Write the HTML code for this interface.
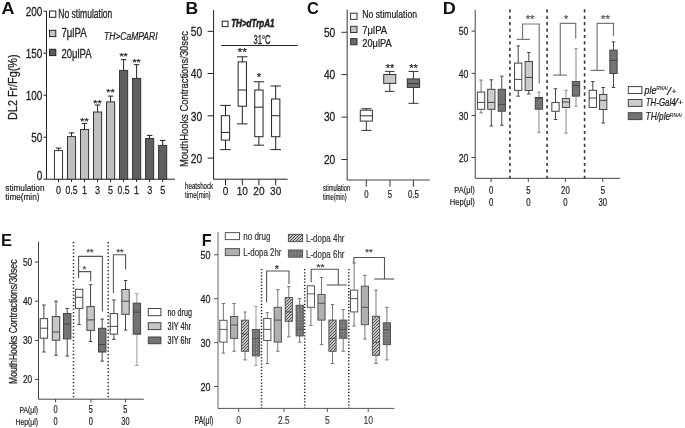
<!DOCTYPE html>
<html><head><meta charset="utf-8"><style>
html,body{margin:0;padding:0;background:#fff;}
svg{display:block;will-change:transform;}
text{font-family:"Liberation Sans", sans-serif;stroke:currentColor;}
</style></head><body>
<svg width="685" height="428" viewBox="0 0 685 428" fill="#222">
<defs>
<pattern id="hatch" width="3" height="3" patternUnits="userSpaceOnUse"><rect width="3" height="3" fill="#f4f4f4"/><path d="M-1,1 L1,-1 M0,3 L3,0 M2,4 L4,2" stroke="#505050" stroke-width="1.15"/></pattern>
<pattern id="dots" width="3" height="3" patternUnits="userSpaceOnUse"><rect width="3" height="3" fill="#747474"/><rect x="1" y="1" width="1" height="1" fill="#9a9a9a"/></pattern>
</defs>
<rect width="685" height="428" fill="#fff"/>
<text x="1.50" y="14.00" font-size="16.8" textLength="13.00" lengthAdjust="spacingAndGlyphs" font-weight="bold" fill="#111" color="#111" stroke-width="0">A</text>
<line x1="46.50" y1="11.20" x2="46.50" y2="179.20" stroke="#222" stroke-width="1"/>
<line x1="46.50" y1="179.20" x2="175.00" y2="179.20" stroke="#222" stroke-width="1"/>
<line x1="43.50" y1="11.20" x2="46.50" y2="11.20" stroke="#222" stroke-width="1"/>
<text x="42.40" y="15.80" font-size="12.6" text-anchor="end" textLength="16.65" lengthAdjust="spacingAndGlyphs" fill="#222" color="#222" stroke-width="0.277">200</text>
<line x1="43.50" y1="53.20" x2="46.50" y2="53.20" stroke="#222" stroke-width="1"/>
<text x="42.40" y="57.80" font-size="12.6" text-anchor="end" textLength="16.65" lengthAdjust="spacingAndGlyphs" fill="#222" color="#222" stroke-width="0.277">150</text>
<line x1="43.50" y1="95.20" x2="46.50" y2="95.20" stroke="#222" stroke-width="1"/>
<text x="42.40" y="99.80" font-size="12.6" text-anchor="end" textLength="16.65" lengthAdjust="spacingAndGlyphs" fill="#222" color="#222" stroke-width="0.277">100</text>
<line x1="43.50" y1="137.20" x2="46.50" y2="137.20" stroke="#222" stroke-width="1"/>
<text x="42.40" y="141.80" font-size="12.6" text-anchor="end" textLength="11.10" lengthAdjust="spacingAndGlyphs" fill="#222" color="#222" stroke-width="0.277">50</text>
<line x1="43.50" y1="179.20" x2="46.50" y2="179.20" stroke="#222" stroke-width="1"/>
<text x="42.40" y="179.60" font-size="12.6" text-anchor="end" textLength="5.55" lengthAdjust="spacingAndGlyphs" fill="#222" color="#222" stroke-width="0.277">0</text>
<text x="16.90" y="87.20" font-size="12.5" text-anchor="middle" textLength="65.50" lengthAdjust="spacingAndGlyphs" fill="#222" color="#222" stroke-width="0.275" transform="rotate(-90 16.90 87.20)">DL2 Fr/Fg(%)</text>
<rect x="49.50" y="11.00" width="6.30" height="6.30" fill="#fff" stroke="#222" stroke-width="1"/>
<rect x="49.50" y="30.30" width="6.30" height="6.30" fill="#c4c4c4" stroke="#222" stroke-width="1"/>
<rect x="49.50" y="49.30" width="6.30" height="6.30" fill="#5c5c5c" stroke="#222" stroke-width="1"/>
<text x="58.30" y="18.20" font-size="12" textLength="54.00" lengthAdjust="spacingAndGlyphs" fill="#222" color="#222" stroke-width="0.264">No stimulation</text>
<text x="61.40" y="37.40" font-size="12" textLength="25.20" lengthAdjust="spacingAndGlyphs" fill="#222" color="#222" stroke-width="0.264">7μlPA</text>
<text x="61.40" y="57.60" font-size="12" textLength="30.20" lengthAdjust="spacingAndGlyphs" fill="#222" color="#222" stroke-width="0.264">20μlPA</text>
<text x="104.00" y="40.20" font-size="10" textLength="53.50" lengthAdjust="spacingAndGlyphs" font-style="italic" fill="#222" color="#222" stroke-width="0.22">TH&gt;CaMPARI</text>
<line x1="58.50" y1="150.60" x2="58.50" y2="148.10" stroke="#222" stroke-width="1"/>
<line x1="55.75" y1="148.10" x2="61.25" y2="148.10" stroke="#222" stroke-width="1"/>
<rect x="54.45" y="150.60" width="8.10" height="28.60" fill="#fff" stroke="#333" stroke-width="1.0"/>
<line x1="58.50" y1="179.20" x2="58.50" y2="182.00" stroke="#222" stroke-width="1"/>
<line x1="71.52" y1="136.60" x2="71.52" y2="132.90" stroke="#222" stroke-width="1"/>
<line x1="68.77" y1="132.90" x2="74.27" y2="132.90" stroke="#222" stroke-width="1"/>
<rect x="67.47" y="136.60" width="8.10" height="42.60" fill="#c0c0c0" stroke="#333" stroke-width="1.0"/>
<line x1="71.52" y1="179.20" x2="71.52" y2="182.00" stroke="#222" stroke-width="1"/>
<line x1="84.54" y1="129.50" x2="84.54" y2="123.40" stroke="#222" stroke-width="1"/>
<line x1="81.79" y1="123.40" x2="87.29" y2="123.40" stroke="#222" stroke-width="1"/>
<rect x="80.49" y="129.50" width="8.10" height="49.70" fill="#c0c0c0" stroke="#333" stroke-width="1.0"/>
<line x1="84.54" y1="179.20" x2="84.54" y2="182.00" stroke="#222" stroke-width="1"/>
<line x1="97.56" y1="112.00" x2="97.56" y2="105.00" stroke="#222" stroke-width="1"/>
<line x1="94.81" y1="105.00" x2="100.31" y2="105.00" stroke="#222" stroke-width="1"/>
<rect x="93.51" y="112.00" width="8.10" height="67.20" fill="#c0c0c0" stroke="#333" stroke-width="1.0"/>
<line x1="97.56" y1="179.20" x2="97.56" y2="182.00" stroke="#222" stroke-width="1"/>
<line x1="110.58" y1="101.90" x2="110.58" y2="96.10" stroke="#222" stroke-width="1"/>
<line x1="107.83" y1="96.10" x2="113.33" y2="96.10" stroke="#222" stroke-width="1"/>
<rect x="106.53" y="101.90" width="8.10" height="77.30" fill="#c0c0c0" stroke="#333" stroke-width="1.0"/>
<line x1="110.58" y1="179.20" x2="110.58" y2="182.00" stroke="#222" stroke-width="1"/>
<line x1="123.60" y1="70.40" x2="123.60" y2="59.70" stroke="#222" stroke-width="1"/>
<line x1="120.85" y1="59.70" x2="126.35" y2="59.70" stroke="#222" stroke-width="1"/>
<rect x="119.55" y="70.40" width="8.10" height="108.80" fill="#606060" stroke="#333" stroke-width="1.0"/>
<line x1="123.60" y1="179.20" x2="123.60" y2="182.00" stroke="#222" stroke-width="1"/>
<line x1="136.62" y1="78.40" x2="136.62" y2="64.70" stroke="#222" stroke-width="1"/>
<line x1="133.87" y1="64.70" x2="139.37" y2="64.70" stroke="#222" stroke-width="1"/>
<rect x="132.57" y="78.40" width="8.10" height="100.80" fill="#606060" stroke="#333" stroke-width="1.0"/>
<line x1="136.62" y1="179.20" x2="136.62" y2="182.00" stroke="#222" stroke-width="1"/>
<line x1="149.64" y1="138.50" x2="149.64" y2="135.40" stroke="#222" stroke-width="1"/>
<line x1="146.89" y1="135.40" x2="152.39" y2="135.40" stroke="#222" stroke-width="1"/>
<rect x="145.59" y="138.50" width="8.10" height="40.70" fill="#606060" stroke="#333" stroke-width="1.0"/>
<line x1="149.64" y1="179.20" x2="149.64" y2="182.00" stroke="#222" stroke-width="1"/>
<line x1="162.66" y1="145.40" x2="162.66" y2="140.40" stroke="#222" stroke-width="1"/>
<line x1="159.91" y1="140.40" x2="165.41" y2="140.40" stroke="#222" stroke-width="1"/>
<rect x="158.61" y="145.40" width="8.10" height="33.80" fill="#606060" stroke="#333" stroke-width="1.0"/>
<line x1="162.66" y1="179.20" x2="162.66" y2="182.00" stroke="#222" stroke-width="1"/>
<text x="84.54" y="123.60" font-size="9" text-anchor="middle" textLength="8.40" lengthAdjust="spacingAndGlyphs" fill="#222" color="#222" stroke-width="0.198">**</text>
<text x="97.56" y="105.50" font-size="9" text-anchor="middle" textLength="8.40" lengthAdjust="spacingAndGlyphs" fill="#222" color="#222" stroke-width="0.198">**</text>
<text x="110.58" y="94.60" font-size="9" text-anchor="middle" textLength="8.40" lengthAdjust="spacingAndGlyphs" fill="#222" color="#222" stroke-width="0.198">**</text>
<text x="123.60" y="59.30" font-size="9" text-anchor="middle" textLength="8.40" lengthAdjust="spacingAndGlyphs" fill="#222" color="#222" stroke-width="0.198">**</text>
<text x="136.62" y="64.70" font-size="9" text-anchor="middle" textLength="8.40" lengthAdjust="spacingAndGlyphs" fill="#222" color="#222" stroke-width="0.198">**</text>
<text x="58.50" y="194.20" font-size="11.5" text-anchor="middle" textLength="5.00" lengthAdjust="spacingAndGlyphs" fill="#222" color="#222" stroke-width="0.253">0</text>
<text x="71.52" y="194.20" font-size="11.5" text-anchor="middle" textLength="12.00" lengthAdjust="spacingAndGlyphs" fill="#222" color="#222" stroke-width="0.253">0.5</text>
<text x="84.54" y="194.20" font-size="11.5" text-anchor="middle" textLength="5.00" lengthAdjust="spacingAndGlyphs" fill="#222" color="#222" stroke-width="0.253">1</text>
<text x="97.56" y="194.20" font-size="11.5" text-anchor="middle" textLength="5.00" lengthAdjust="spacingAndGlyphs" fill="#222" color="#222" stroke-width="0.253">3</text>
<text x="110.58" y="194.20" font-size="11.5" text-anchor="middle" textLength="5.00" lengthAdjust="spacingAndGlyphs" fill="#222" color="#222" stroke-width="0.253">5</text>
<text x="123.60" y="194.20" font-size="11.5" text-anchor="middle" textLength="12.00" lengthAdjust="spacingAndGlyphs" fill="#222" color="#222" stroke-width="0.253">0.5</text>
<text x="136.62" y="194.20" font-size="11.5" text-anchor="middle" textLength="5.00" lengthAdjust="spacingAndGlyphs" fill="#222" color="#222" stroke-width="0.253">1</text>
<text x="149.64" y="194.20" font-size="11.5" text-anchor="middle" textLength="5.00" lengthAdjust="spacingAndGlyphs" fill="#222" color="#222" stroke-width="0.253">3</text>
<text x="162.66" y="194.20" font-size="11.5" text-anchor="middle" textLength="5.00" lengthAdjust="spacingAndGlyphs" fill="#222" color="#222" stroke-width="0.253">5</text>
<text x="5.30" y="190.50" font-size="9.6" textLength="39.20" lengthAdjust="spacingAndGlyphs" fill="#222" color="#222" stroke-width="0.211">stimulation</text>
<text x="5.30" y="200.20" font-size="9.6" textLength="34.20" lengthAdjust="spacingAndGlyphs" fill="#222" color="#222" stroke-width="0.211">time(min)</text>
<text x="185.40" y="14.00" font-size="16.7" textLength="12.70" lengthAdjust="spacingAndGlyphs" font-weight="bold" fill="#111" color="#111" stroke-width="0">B</text>
<line x1="213.60" y1="10.10" x2="213.60" y2="179.20" stroke="#222" stroke-width="1"/>
<line x1="213.60" y1="179.20" x2="287.60" y2="179.20" stroke="#222" stroke-width="1"/>
<line x1="207.60" y1="31.30" x2="213.60" y2="31.30" stroke="#222" stroke-width="1"/>
<text x="202.20" y="36.20" font-size="12.8" text-anchor="end" textLength="11.40" lengthAdjust="spacingAndGlyphs" fill="#222" color="#222" stroke-width="0.282">50</text>
<line x1="207.60" y1="73.50" x2="213.60" y2="73.50" stroke="#222" stroke-width="1"/>
<text x="202.20" y="78.40" font-size="12.8" text-anchor="end" textLength="11.40" lengthAdjust="spacingAndGlyphs" fill="#222" color="#222" stroke-width="0.282">40</text>
<line x1="207.60" y1="115.80" x2="213.60" y2="115.80" stroke="#222" stroke-width="1"/>
<text x="202.20" y="120.70" font-size="12.8" text-anchor="end" textLength="11.40" lengthAdjust="spacingAndGlyphs" fill="#222" color="#222" stroke-width="0.282">30</text>
<line x1="207.60" y1="158.10" x2="213.60" y2="158.10" stroke="#222" stroke-width="1"/>
<text x="202.20" y="163.00" font-size="12.8" text-anchor="end" textLength="11.40" lengthAdjust="spacingAndGlyphs" fill="#222" color="#222" stroke-width="0.282">20</text>
<text x="187.60" y="99.00" font-size="11.3" text-anchor="middle" textLength="136.00" lengthAdjust="spacingAndGlyphs" fill="#222" color="#222" stroke-width="0.249" transform="rotate(-90 187.60 99.00)">MouthHooks Contractions/30sec</text>
<rect x="222.20" y="21.20" width="5.80" height="5.40" fill="#fff" stroke="#222" stroke-width="1"/>
<text x="231.20" y="27.30" font-size="10" textLength="43.30" lengthAdjust="spacingAndGlyphs" font-weight="bold" font-style="italic" fill="#222" color="#222" stroke-width="0.55">TH&gt;dTrpA1</text>
<text x="253.40" y="44.20" font-size="13.5" textLength="17.20" lengthAdjust="spacingAndGlyphs" fill="#222" color="#222" stroke-width="0.297">31°C</text>
<line x1="221.20" y1="45.50" x2="297.70" y2="45.50" stroke="#222" stroke-width="1"/>
<line x1="225.50" y1="105.40" x2="225.50" y2="115.70" stroke="#222" stroke-width="1"/>
<line x1="220.25" y1="105.40" x2="230.75" y2="105.40" stroke="#222" stroke-width="1"/>
<line x1="225.50" y1="140.10" x2="225.50" y2="149.60" stroke="#222" stroke-width="1"/>
<line x1="220.25" y1="149.60" x2="230.75" y2="149.60" stroke="#222" stroke-width="1"/>
<rect x="221.35" y="115.70" width="8.30" height="24.40" fill="#fff" stroke="#222" stroke-width="1"/>
<line x1="221.35" y1="132.40" x2="229.65" y2="132.40" stroke="#222" stroke-width="1"/>
<line x1="242.30" y1="56.80" x2="242.30" y2="61.90" stroke="#222" stroke-width="1"/>
<line x1="237.05" y1="56.80" x2="247.55" y2="56.80" stroke="#222" stroke-width="1"/>
<line x1="242.30" y1="106.20" x2="242.30" y2="123.90" stroke="#222" stroke-width="1"/>
<line x1="237.05" y1="123.90" x2="247.55" y2="123.90" stroke="#222" stroke-width="1"/>
<rect x="238.15" y="61.90" width="8.30" height="44.30" fill="#fff" stroke="#222" stroke-width="1"/>
<line x1="238.15" y1="90.00" x2="246.45" y2="90.00" stroke="#222" stroke-width="1"/>
<line x1="258.90" y1="81.80" x2="258.90" y2="90.00" stroke="#222" stroke-width="1"/>
<line x1="253.65" y1="81.80" x2="264.15" y2="81.80" stroke="#222" stroke-width="1"/>
<line x1="258.90" y1="136.70" x2="258.90" y2="145.20" stroke="#222" stroke-width="1"/>
<line x1="253.65" y1="145.20" x2="264.15" y2="145.20" stroke="#222" stroke-width="1"/>
<rect x="254.75" y="90.00" width="8.30" height="46.70" fill="#fff" stroke="#222" stroke-width="1"/>
<line x1="254.75" y1="107.20" x2="263.05" y2="107.20" stroke="#222" stroke-width="1"/>
<line x1="275.70" y1="86.00" x2="275.70" y2="99.00" stroke="#222" stroke-width="1"/>
<line x1="270.45" y1="86.00" x2="280.95" y2="86.00" stroke="#222" stroke-width="1"/>
<line x1="275.70" y1="136.70" x2="275.70" y2="149.60" stroke="#222" stroke-width="1"/>
<line x1="270.45" y1="149.60" x2="280.95" y2="149.60" stroke="#222" stroke-width="1"/>
<rect x="271.55" y="99.00" width="8.30" height="37.70" fill="#fff" stroke="#222" stroke-width="1"/>
<line x1="271.55" y1="115.70" x2="279.85" y2="115.70" stroke="#222" stroke-width="1"/>
<text x="242.30" y="55.50" font-size="10" text-anchor="middle" textLength="9.50" lengthAdjust="spacingAndGlyphs" fill="#222" color="#222" stroke-width="0.22">**</text>
<text x="258.90" y="80.90" font-size="10" text-anchor="middle" textLength="4.50" lengthAdjust="spacingAndGlyphs" fill="#222" color="#222" stroke-width="0.22">*</text>
<line x1="225.50" y1="179.20" x2="225.50" y2="185.20" stroke="#222" stroke-width="1"/>
<text x="225.50" y="194.60" font-size="11.5" text-anchor="middle" textLength="5.60" lengthAdjust="spacingAndGlyphs" fill="#222" color="#222" stroke-width="0.253">0</text>
<line x1="242.30" y1="179.20" x2="242.30" y2="185.20" stroke="#222" stroke-width="1"/>
<text x="242.30" y="194.60" font-size="11.5" text-anchor="middle" textLength="11.20" lengthAdjust="spacingAndGlyphs" fill="#222" color="#222" stroke-width="0.253">10</text>
<line x1="258.90" y1="179.20" x2="258.90" y2="185.20" stroke="#222" stroke-width="1"/>
<text x="258.90" y="194.60" font-size="11.5" text-anchor="middle" textLength="11.20" lengthAdjust="spacingAndGlyphs" fill="#222" color="#222" stroke-width="0.253">20</text>
<line x1="275.70" y1="179.20" x2="275.70" y2="185.20" stroke="#222" stroke-width="1"/>
<text x="275.70" y="194.60" font-size="11.5" text-anchor="middle" textLength="11.20" lengthAdjust="spacingAndGlyphs" fill="#222" color="#222" stroke-width="0.253">30</text>
<text x="185.00" y="189.10" font-size="9.8" textLength="28.20" lengthAdjust="spacingAndGlyphs" fill="#222" color="#222" stroke-width="0.216">heatshock</text>
<text x="185.00" y="197.90" font-size="9.8" textLength="25.60" lengthAdjust="spacingAndGlyphs" fill="#222" color="#222" stroke-width="0.216">time(min)</text>
<text x="306.90" y="14.30" font-size="17.3" textLength="11.80" lengthAdjust="spacingAndGlyphs" font-weight="bold" fill="#111" color="#111" stroke-width="0">C</text>
<line x1="347.20" y1="9.40" x2="347.20" y2="180.00" stroke="#666" stroke-width="1.3"/>
<line x1="347.20" y1="180.00" x2="429.70" y2="180.00" stroke="#444" stroke-width="1"/>
<line x1="341.40" y1="32.30" x2="347.20" y2="32.30" stroke="#333" stroke-width="1"/>
<text x="335.30" y="36.60" font-size="12" text-anchor="end" textLength="11.40" lengthAdjust="spacingAndGlyphs" fill="#222" color="#222" stroke-width="0.264">50</text>
<line x1="341.40" y1="74.60" x2="347.20" y2="74.60" stroke="#333" stroke-width="1"/>
<text x="335.30" y="78.90" font-size="12" text-anchor="end" textLength="11.40" lengthAdjust="spacingAndGlyphs" fill="#222" color="#222" stroke-width="0.264">40</text>
<line x1="341.40" y1="117.10" x2="347.20" y2="117.10" stroke="#333" stroke-width="1"/>
<text x="335.30" y="121.40" font-size="12" text-anchor="end" textLength="11.40" lengthAdjust="spacingAndGlyphs" fill="#222" color="#222" stroke-width="0.264">30</text>
<line x1="341.40" y1="159.50" x2="347.20" y2="159.50" stroke="#333" stroke-width="1"/>
<text x="335.30" y="163.80" font-size="12" text-anchor="end" textLength="11.40" lengthAdjust="spacingAndGlyphs" fill="#222" color="#222" stroke-width="0.264">20</text>
<rect x="350.60" y="13.20" width="6.40" height="6.20" fill="#fff" stroke="#333" stroke-width="1"/>
<rect x="350.60" y="26.30" width="6.40" height="6.20" fill="#c4c4c4" stroke="#333" stroke-width="1"/>
<rect x="350.60" y="38.60" width="6.40" height="6.20" fill="#6a6a6a" stroke="#333" stroke-width="1"/>
<text x="362.30" y="18.40" font-size="11.2" textLength="54.70" lengthAdjust="spacingAndGlyphs" fill="#222" color="#222" stroke-width="0.246">No stimulation</text>
<text x="362.30" y="33.60" font-size="11.2" textLength="24.80" lengthAdjust="spacingAndGlyphs" fill="#222" color="#222" stroke-width="0.246">7μlPA</text>
<text x="362.30" y="46.60" font-size="11.2" textLength="29.40" lengthAdjust="spacingAndGlyphs" fill="#222" color="#222" stroke-width="0.246">20μlPA</text>
<line x1="366.35" y1="108.70" x2="366.35" y2="110.20" stroke="#333" stroke-width="1"/>
<line x1="361.35" y1="108.70" x2="371.35" y2="108.70" stroke="#333" stroke-width="1"/>
<line x1="366.35" y1="121.10" x2="366.35" y2="130.40" stroke="#333" stroke-width="1"/>
<line x1="361.35" y1="130.40" x2="371.35" y2="130.40" stroke="#333" stroke-width="1"/>
<rect x="360.30" y="110.20" width="12.10" height="10.90" fill="#fff" stroke="#333" stroke-width="1"/>
<line x1="360.30" y1="115.80" x2="372.40" y2="115.80" stroke="#333" stroke-width="1"/>
<line x1="389.75" y1="71.40" x2="389.75" y2="74.50" stroke="#333" stroke-width="1"/>
<line x1="385.00" y1="71.40" x2="394.50" y2="71.40" stroke="#333" stroke-width="1"/>
<line x1="389.75" y1="83.40" x2="389.75" y2="91.40" stroke="#333" stroke-width="1"/>
<line x1="385.00" y1="91.40" x2="394.50" y2="91.40" stroke="#333" stroke-width="1"/>
<rect x="383.70" y="74.50" width="12.10" height="8.90" fill="#c8c8c8" stroke="#333" stroke-width="1"/>
<line x1="413.45" y1="71.40" x2="413.45" y2="78.90" stroke="#333" stroke-width="1"/>
<line x1="408.45" y1="71.40" x2="418.45" y2="71.40" stroke="#333" stroke-width="1"/>
<line x1="413.45" y1="87.40" x2="413.45" y2="103.30" stroke="#333" stroke-width="1"/>
<line x1="408.45" y1="103.30" x2="418.45" y2="103.30" stroke="#333" stroke-width="1"/>
<rect x="407.30" y="78.90" width="12.30" height="8.50" fill="#727272" stroke="#333" stroke-width="1"/>
<line x1="407.30" y1="83.60" x2="419.60" y2="83.60" stroke="#333" stroke-width="1"/>
<text x="390.10" y="72.20" font-size="10" text-anchor="middle" textLength="8.50" lengthAdjust="spacingAndGlyphs" fill="#222" color="#222" stroke-width="0.22">**</text>
<text x="413.50" y="72.20" font-size="10" text-anchor="middle" textLength="8.50" lengthAdjust="spacingAndGlyphs" fill="#222" color="#222" stroke-width="0.22">**</text>
<line x1="366.30" y1="180.00" x2="366.30" y2="186.60" stroke="#333" stroke-width="1"/>
<text x="366.30" y="197.90" font-size="10.8" text-anchor="middle" textLength="4.30" lengthAdjust="spacingAndGlyphs" fill="#222" color="#222" stroke-width="0.238">0</text>
<line x1="390.00" y1="180.00" x2="390.00" y2="186.60" stroke="#333" stroke-width="1"/>
<text x="390.00" y="197.90" font-size="10.8" text-anchor="middle" textLength="4.30" lengthAdjust="spacingAndGlyphs" fill="#222" color="#222" stroke-width="0.238">5</text>
<line x1="413.40" y1="180.00" x2="413.40" y2="186.60" stroke="#333" stroke-width="1"/>
<text x="413.40" y="197.90" font-size="10.8" text-anchor="middle" textLength="11.00" lengthAdjust="spacingAndGlyphs" fill="#222" color="#222" stroke-width="0.238">0.5</text>
<text x="323.00" y="190.70" font-size="8.7" textLength="27.20" lengthAdjust="spacingAndGlyphs" fill="#222" color="#222" stroke-width="0.191">stimulation</text>
<text x="323.00" y="199.90" font-size="8.7" textLength="23.60" lengthAdjust="spacingAndGlyphs" fill="#222" color="#222" stroke-width="0.191">time(min)</text>
<text x="442.80" y="14.00" font-size="16.9" textLength="13.10" lengthAdjust="spacingAndGlyphs" font-weight="bold" fill="#111" color="#111" stroke-width="0">D</text>
<line x1="475.20" y1="9.80" x2="475.20" y2="178.30" stroke="#444" stroke-width="1"/>
<line x1="475.20" y1="178.30" x2="620.30" y2="178.30" stroke="#444" stroke-width="1"/>
<line x1="471.60" y1="31.10" x2="475.20" y2="31.10" stroke="#444" stroke-width="1"/>
<text x="468.30" y="35.20" font-size="11.5" text-anchor="end" textLength="9.60" lengthAdjust="spacingAndGlyphs" fill="#222" color="#222" stroke-width="0.253">50</text>
<line x1="471.60" y1="73.40" x2="475.20" y2="73.40" stroke="#444" stroke-width="1"/>
<text x="468.30" y="77.50" font-size="11.5" text-anchor="end" textLength="9.60" lengthAdjust="spacingAndGlyphs" fill="#222" color="#222" stroke-width="0.253">40</text>
<line x1="471.60" y1="115.50" x2="475.20" y2="115.50" stroke="#444" stroke-width="1"/>
<text x="468.30" y="119.60" font-size="11.5" text-anchor="end" textLength="9.60" lengthAdjust="spacingAndGlyphs" fill="#222" color="#222" stroke-width="0.253">30</text>
<line x1="471.60" y1="157.50" x2="475.20" y2="157.50" stroke="#444" stroke-width="1"/>
<text x="468.30" y="161.60" font-size="11.5" text-anchor="end" textLength="9.60" lengthAdjust="spacingAndGlyphs" fill="#222" color="#222" stroke-width="0.253">20</text>
<line x1="509.90" y1="9.30" x2="509.90" y2="178.30" stroke="#3a3a3a" stroke-width="1.6" stroke-dasharray="3.2 3.2"/>
<line x1="547.10" y1="9.30" x2="547.10" y2="178.30" stroke="#3a3a3a" stroke-width="1.6" stroke-dasharray="3.2 3.2"/>
<line x1="584.60" y1="9.30" x2="584.60" y2="178.30" stroke="#3a3a3a" stroke-width="1.6" stroke-dasharray="3.2 3.2"/>
<line x1="491.10" y1="178.30" x2="491.10" y2="181.90" stroke="#444" stroke-width="1"/>
<line x1="528.30" y1="178.30" x2="528.30" y2="181.90" stroke="#444" stroke-width="1"/>
<line x1="565.40" y1="178.30" x2="565.40" y2="181.90" stroke="#444" stroke-width="1"/>
<line x1="602.80" y1="178.30" x2="602.80" y2="181.90" stroke="#444" stroke-width="1"/>
<text x="491.10" y="193.70" font-size="10" text-anchor="middle" textLength="4.30" lengthAdjust="spacingAndGlyphs" fill="#222" color="#222" stroke-width="0.22">0</text>
<text x="528.30" y="193.70" font-size="10" text-anchor="middle" textLength="4.30" lengthAdjust="spacingAndGlyphs" fill="#222" color="#222" stroke-width="0.22">5</text>
<text x="565.40" y="193.70" font-size="10" text-anchor="middle" textLength="8.60" lengthAdjust="spacingAndGlyphs" fill="#222" color="#222" stroke-width="0.22">20</text>
<text x="602.80" y="193.70" font-size="10" text-anchor="middle" textLength="4.30" lengthAdjust="spacingAndGlyphs" fill="#222" color="#222" stroke-width="0.22">5</text>
<text x="491.10" y="205.80" font-size="10" text-anchor="middle" textLength="4.30" lengthAdjust="spacingAndGlyphs" fill="#222" color="#222" stroke-width="0.22">0</text>
<text x="528.30" y="205.80" font-size="10" text-anchor="middle" textLength="4.30" lengthAdjust="spacingAndGlyphs" fill="#222" color="#222" stroke-width="0.22">0</text>
<text x="565.40" y="205.80" font-size="10" text-anchor="middle" textLength="4.30" lengthAdjust="spacingAndGlyphs" fill="#222" color="#222" stroke-width="0.22">0</text>
<text x="602.80" y="205.80" font-size="10" text-anchor="middle" textLength="8.60" lengthAdjust="spacingAndGlyphs" fill="#222" color="#222" stroke-width="0.22">30</text>
<text x="474.80" y="193.20" font-size="9.5" text-anchor="end" textLength="20.50" lengthAdjust="spacingAndGlyphs" fill="#222" color="#222" stroke-width="0.209">PA(μl)</text>
<text x="474.80" y="205.20" font-size="9.5" text-anchor="end" textLength="25.00" lengthAdjust="spacingAndGlyphs" fill="#222" color="#222" stroke-width="0.209">Hep(μl)</text>
<line x1="481.05" y1="80.10" x2="481.05" y2="92.10" stroke="#777" stroke-width="1"/>
<line x1="479.30" y1="80.10" x2="482.80" y2="80.10" stroke="#777" stroke-width="1"/>
<line x1="481.05" y1="109.30" x2="481.05" y2="112.90" stroke="#777" stroke-width="1"/>
<line x1="479.30" y1="112.90" x2="482.80" y2="112.90" stroke="#777" stroke-width="1"/>
<rect x="477.40" y="92.10" width="7.30" height="17.20" fill="#fff" stroke="#444" stroke-width="1"/>
<line x1="477.40" y1="102.40" x2="484.70" y2="102.40" stroke="#444" stroke-width="1"/>
<line x1="491.30" y1="79.80" x2="491.30" y2="89.30" stroke="#444" stroke-width="1"/>
<line x1="489.55" y1="79.80" x2="493.05" y2="79.80" stroke="#444" stroke-width="1"/>
<line x1="491.30" y1="109.30" x2="491.30" y2="126.00" stroke="#444" stroke-width="1"/>
<line x1="489.55" y1="126.00" x2="493.05" y2="126.00" stroke="#444" stroke-width="1"/>
<rect x="487.65" y="89.30" width="7.30" height="20.00" fill="#cccccc" stroke="#444" stroke-width="1"/>
<line x1="487.65" y1="102.40" x2="494.95" y2="102.40" stroke="#444" stroke-width="1"/>
<line x1="501.80" y1="76.20" x2="501.80" y2="89.30" stroke="#444" stroke-width="1"/>
<line x1="500.05" y1="76.20" x2="503.55" y2="76.20" stroke="#444" stroke-width="1"/>
<line x1="501.80" y1="111.20" x2="501.80" y2="125.30" stroke="#444" stroke-width="1"/>
<line x1="500.05" y1="125.30" x2="503.55" y2="125.30" stroke="#444" stroke-width="1"/>
<rect x="498.15" y="89.30" width="7.30" height="21.90" fill="#747474" stroke="#444" stroke-width="1"/>
<line x1="498.15" y1="104.40" x2="505.45" y2="104.40" stroke="#444" stroke-width="1"/>
<line x1="518.20" y1="45.90" x2="518.20" y2="63.10" stroke="#444" stroke-width="1"/>
<line x1="516.45" y1="45.90" x2="519.95" y2="45.90" stroke="#444" stroke-width="1"/>
<line x1="518.20" y1="90.40" x2="518.20" y2="96.20" stroke="#444" stroke-width="1"/>
<line x1="516.45" y1="96.20" x2="519.95" y2="96.20" stroke="#444" stroke-width="1"/>
<rect x="514.55" y="63.10" width="7.30" height="27.30" fill="#fff" stroke="#444" stroke-width="1"/>
<line x1="514.55" y1="79.40" x2="521.85" y2="79.40" stroke="#444" stroke-width="1"/>
<line x1="528.80" y1="52.50" x2="528.80" y2="61.50" stroke="#444" stroke-width="1"/>
<line x1="527.05" y1="52.50" x2="530.55" y2="52.50" stroke="#444" stroke-width="1"/>
<line x1="528.80" y1="90.50" x2="528.80" y2="94.00" stroke="#444" stroke-width="1"/>
<line x1="527.05" y1="94.00" x2="530.55" y2="94.00" stroke="#444" stroke-width="1"/>
<rect x="525.15" y="61.50" width="7.30" height="29.00" fill="#cccccc" stroke="#444" stroke-width="1"/>
<line x1="525.15" y1="77.40" x2="532.45" y2="77.40" stroke="#444" stroke-width="1"/>
<line x1="538.95" y1="92.10" x2="538.95" y2="97.50" stroke="#888" stroke-width="1"/>
<line x1="537.20" y1="92.10" x2="540.70" y2="92.10" stroke="#888" stroke-width="1"/>
<line x1="538.95" y1="109.20" x2="538.95" y2="132.30" stroke="#888" stroke-width="1"/>
<line x1="537.20" y1="132.30" x2="540.70" y2="132.30" stroke="#888" stroke-width="1"/>
<rect x="535.30" y="97.50" width="7.30" height="11.70" fill="#747474" stroke="#444" stroke-width="1"/>
<line x1="535.30" y1="98.10" x2="542.60" y2="98.10" stroke="#444" stroke-width="1"/>
<line x1="555.50" y1="88.70" x2="555.50" y2="102.50" stroke="#444" stroke-width="1"/>
<line x1="553.75" y1="88.70" x2="557.25" y2="88.70" stroke="#444" stroke-width="1"/>
<line x1="555.50" y1="111.30" x2="555.50" y2="119.50" stroke="#444" stroke-width="1"/>
<line x1="553.75" y1="119.50" x2="557.25" y2="119.50" stroke="#444" stroke-width="1"/>
<rect x="551.85" y="102.50" width="7.30" height="8.80" fill="#fff" stroke="#444" stroke-width="1"/>
<line x1="566.00" y1="90.30" x2="566.00" y2="98.50" stroke="#888" stroke-width="1"/>
<line x1="564.25" y1="90.30" x2="567.75" y2="90.30" stroke="#888" stroke-width="1"/>
<line x1="566.00" y1="107.40" x2="566.00" y2="133.10" stroke="#888" stroke-width="1"/>
<line x1="564.25" y1="133.10" x2="567.75" y2="133.10" stroke="#888" stroke-width="1"/>
<rect x="562.35" y="98.50" width="7.30" height="8.90" fill="#cccccc" stroke="#444" stroke-width="1"/>
<line x1="562.35" y1="102.00" x2="569.65" y2="102.00" stroke="#444" stroke-width="1"/>
<line x1="576.00" y1="48.70" x2="576.00" y2="81.60" stroke="#888" stroke-width="1"/>
<line x1="574.25" y1="48.70" x2="577.75" y2="48.70" stroke="#888" stroke-width="1"/>
<line x1="576.00" y1="96.10" x2="576.00" y2="106.20" stroke="#888" stroke-width="1"/>
<line x1="574.25" y1="106.20" x2="577.75" y2="106.20" stroke="#888" stroke-width="1"/>
<rect x="572.35" y="81.60" width="7.30" height="14.50" fill="#747474" stroke="#444" stroke-width="1"/>
<line x1="572.35" y1="85.60" x2="579.65" y2="85.60" stroke="#444" stroke-width="1"/>
<line x1="592.80" y1="81.60" x2="592.80" y2="90.30" stroke="#444" stroke-width="1"/>
<line x1="591.05" y1="81.60" x2="594.55" y2="81.60" stroke="#444" stroke-width="1"/>
<rect x="589.15" y="90.30" width="7.30" height="17.10" fill="#fff" stroke="#444" stroke-width="1"/>
<line x1="589.15" y1="98.00" x2="596.45" y2="98.00" stroke="#444" stroke-width="1"/>
<line x1="603.20" y1="87.50" x2="603.20" y2="94.50" stroke="#444" stroke-width="1"/>
<line x1="601.45" y1="87.50" x2="604.95" y2="87.50" stroke="#444" stroke-width="1"/>
<line x1="603.20" y1="109.50" x2="603.20" y2="123.00" stroke="#444" stroke-width="1"/>
<line x1="601.45" y1="123.00" x2="604.95" y2="123.00" stroke="#444" stroke-width="1"/>
<rect x="599.55" y="94.50" width="7.30" height="15.00" fill="#cccccc" stroke="#444" stroke-width="1"/>
<line x1="599.55" y1="100.40" x2="606.85" y2="100.40" stroke="#444" stroke-width="1"/>
<line x1="613.50" y1="41.90" x2="613.50" y2="50.10" stroke="#444" stroke-width="1"/>
<line x1="611.75" y1="41.90" x2="615.25" y2="41.90" stroke="#444" stroke-width="1"/>
<line x1="613.50" y1="73.50" x2="613.50" y2="87.50" stroke="#444" stroke-width="1"/>
<line x1="611.75" y1="87.50" x2="615.25" y2="87.50" stroke="#444" stroke-width="1"/>
<rect x="609.85" y="50.10" width="7.30" height="23.40" fill="#747474" stroke="#444" stroke-width="1"/>
<line x1="609.85" y1="60.40" x2="617.15" y2="60.40" stroke="#444" stroke-width="1"/>
<line x1="516.70" y1="39.40" x2="529.80" y2="39.40" stroke="#777" stroke-width="1.2"/>
<polyline points="522.50,39.40 522.50,24.00 539.20,24.00 539.20,83.40" fill="none" stroke="#777" stroke-width="1.2"/>
<text x="530.10" y="22.90" font-size="10" text-anchor="middle" textLength="8.80" lengthAdjust="spacingAndGlyphs" fill="#555" color="#555" stroke-width="0.22">**</text>
<line x1="553.20" y1="75.10" x2="566.80" y2="75.10" stroke="#777" stroke-width="1.2"/>
<polyline points="560.30,75.10 560.30,23.40 575.70,23.40 575.70,38.50" fill="none" stroke="#777" stroke-width="1.2"/>
<text x="566.00" y="22.90" font-size="10" text-anchor="middle" textLength="4.20" lengthAdjust="spacingAndGlyphs" fill="#555" color="#555" stroke-width="0.22">*</text>
<line x1="590.60" y1="70.40" x2="604.60" y2="70.40" stroke="#777" stroke-width="1.2"/>
<polyline points="597.10,70.40 597.10,23.40 613.50,23.40 613.50,36.20" fill="none" stroke="#777" stroke-width="1.2"/>
<text x="605.40" y="22.90" font-size="10" text-anchor="middle" textLength="8.80" lengthAdjust="spacingAndGlyphs" fill="#555" color="#555" stroke-width="0.22">**</text>
<rect x="628.30" y="86.60" width="13.60" height="6.90" fill="#fff" stroke="#444" stroke-width="1"/>
<rect x="628.30" y="99.50" width="13.60" height="6.90" fill="#cccccc" stroke="#444" stroke-width="1"/>
<rect x="628.30" y="112.70" width="13.60" height="6.90" fill="#747474" stroke="#444" stroke-width="1"/>
<text x="644.60" y="94.30" font-size="10.5" textLength="11.80" lengthAdjust="spacingAndGlyphs" font-style="italic" fill="#222" color="#222" stroke-width="0.231">ple</text>
<text x="656.20" y="90.10" font-size="6" textLength="11.40" lengthAdjust="spacingAndGlyphs" font-style="italic" fill="#222" color="#222" stroke-width="0.132">RNAi</text>
<text x="667.20" y="94.60" font-size="10.5" textLength="3.50" lengthAdjust="spacingAndGlyphs" font-style="italic" fill="#222" color="#222" stroke-width="0.231">/</text>
<text x="671.40" y="93.60" font-size="8" textLength="5.00" lengthAdjust="spacingAndGlyphs" font-style="italic" fill="#222" color="#222" stroke-width="0.176">+</text>
<text x="645.80" y="106.40" font-size="11.2" textLength="29.80" lengthAdjust="spacingAndGlyphs" font-style="italic" fill="#222" color="#222" stroke-width="0.246">TH-Gal4</text>
<text x="674.60" y="106.40" font-size="10.5" textLength="3.30" lengthAdjust="spacingAndGlyphs" font-style="italic" fill="#222" color="#222" stroke-width="0.231">/</text>
<text x="677.90" y="104.90" font-size="8" textLength="5.00" lengthAdjust="spacingAndGlyphs" font-style="italic" fill="#222" color="#222" stroke-width="0.176">+</text>
<text x="645.60" y="119.90" font-size="11.2" textLength="24.60" lengthAdjust="spacingAndGlyphs" font-style="italic" fill="#222" color="#222" stroke-width="0.246">TH/ple</text>
<text x="669.80" y="116.90" font-size="6" textLength="11.90" lengthAdjust="spacingAndGlyphs" font-style="italic" fill="#222" color="#222" stroke-width="0.132">RNAi</text>
<text x="1.00" y="245.50" font-size="16.3" textLength="11.10" lengthAdjust="spacingAndGlyphs" font-weight="bold" fill="#111" color="#111" stroke-width="0">E</text>
<line x1="38.50" y1="241.50" x2="38.50" y2="399.20" stroke="#444" stroke-width="1"/>
<line x1="38.50" y1="399.20" x2="143.80" y2="399.20" stroke="#444" stroke-width="1"/>
<line x1="35.00" y1="262.10" x2="38.50" y2="262.10" stroke="#444" stroke-width="1"/>
<text x="32.20" y="265.80" font-size="10.6" text-anchor="end" textLength="9.20" lengthAdjust="spacingAndGlyphs" fill="#222" color="#222" stroke-width="0.233">50</text>
<line x1="35.00" y1="301.20" x2="38.50" y2="301.20" stroke="#444" stroke-width="1"/>
<text x="32.20" y="304.90" font-size="10.6" text-anchor="end" textLength="9.20" lengthAdjust="spacingAndGlyphs" fill="#222" color="#222" stroke-width="0.233">40</text>
<line x1="35.00" y1="340.40" x2="38.50" y2="340.40" stroke="#444" stroke-width="1"/>
<text x="32.20" y="344.10" font-size="10.6" text-anchor="end" textLength="9.20" lengthAdjust="spacingAndGlyphs" fill="#222" color="#222" stroke-width="0.233">30</text>
<line x1="35.00" y1="379.40" x2="38.50" y2="379.40" stroke="#444" stroke-width="1"/>
<text x="32.20" y="383.10" font-size="10.6" text-anchor="end" textLength="9.20" lengthAdjust="spacingAndGlyphs" fill="#222" color="#222" stroke-width="0.233">20</text>
<text x="16.80" y="321.80" font-size="10.7" text-anchor="middle" textLength="124.50" lengthAdjust="spacingAndGlyphs" fill="#222" color="#222" stroke-width="0.235" transform="rotate(-90 16.80 321.80)">MouthHooks Contractions/30sec</text>
<line x1="73.50" y1="242.05" x2="73.50" y2="399.20" stroke="#222" stroke-width="1.5" stroke-dasharray="1.3 2.2"/>
<line x1="108.20" y1="242.05" x2="108.20" y2="399.20" stroke="#222" stroke-width="1.5" stroke-dasharray="1.3 2.2"/>
<line x1="55.60" y1="399.20" x2="55.60" y2="402.40" stroke="#444" stroke-width="1"/>
<line x1="90.90" y1="399.20" x2="90.90" y2="402.40" stroke="#444" stroke-width="1"/>
<line x1="125.40" y1="399.20" x2="125.40" y2="402.40" stroke="#444" stroke-width="1"/>
<text x="55.60" y="413.20" font-size="10" text-anchor="middle" textLength="4.10" lengthAdjust="spacingAndGlyphs" fill="#222" color="#222" stroke-width="0.22">0</text>
<text x="90.90" y="413.20" font-size="10" text-anchor="middle" textLength="4.10" lengthAdjust="spacingAndGlyphs" fill="#222" color="#222" stroke-width="0.22">5</text>
<text x="125.40" y="413.20" font-size="10" text-anchor="middle" textLength="4.10" lengthAdjust="spacingAndGlyphs" fill="#222" color="#222" stroke-width="0.22">5</text>
<text x="55.60" y="424.50" font-size="10" text-anchor="middle" textLength="4.10" lengthAdjust="spacingAndGlyphs" fill="#222" color="#222" stroke-width="0.22">0</text>
<text x="90.90" y="424.50" font-size="10" text-anchor="middle" textLength="4.10" lengthAdjust="spacingAndGlyphs" fill="#222" color="#222" stroke-width="0.22">0</text>
<text x="125.40" y="424.50" font-size="10" text-anchor="middle" textLength="8.20" lengthAdjust="spacingAndGlyphs" fill="#222" color="#222" stroke-width="0.22">30</text>
<text x="38.00" y="413.20" font-size="9.5" text-anchor="end" textLength="18.50" lengthAdjust="spacingAndGlyphs" fill="#222" color="#222" stroke-width="0.209">PA(μl)</text>
<text x="38.00" y="424.50" font-size="9.5" text-anchor="end" textLength="22.50" lengthAdjust="spacingAndGlyphs" fill="#222" color="#222" stroke-width="0.209">Hep(μl)</text>
<line x1="43.90" y1="305.00" x2="43.90" y2="318.60" stroke="#444" stroke-width="1"/>
<line x1="42.15" y1="305.00" x2="45.65" y2="305.00" stroke="#444" stroke-width="1"/>
<line x1="43.90" y1="338.20" x2="43.90" y2="352.00" stroke="#444" stroke-width="1"/>
<line x1="42.15" y1="352.00" x2="45.65" y2="352.00" stroke="#444" stroke-width="1"/>
<rect x="40.20" y="318.60" width="7.40" height="19.60" fill="#fff" stroke="#444" stroke-width="1"/>
<line x1="40.20" y1="328.20" x2="47.60" y2="328.20" stroke="#444" stroke-width="1"/>
<line x1="56.00" y1="301.20" x2="56.00" y2="316.60" stroke="#444" stroke-width="1"/>
<line x1="54.25" y1="301.20" x2="57.75" y2="301.20" stroke="#444" stroke-width="1"/>
<line x1="56.00" y1="340.20" x2="56.00" y2="355.30" stroke="#444" stroke-width="1"/>
<line x1="54.25" y1="355.30" x2="57.75" y2="355.30" stroke="#444" stroke-width="1"/>
<rect x="52.30" y="316.60" width="7.40" height="23.60" fill="#c8c8c8" stroke="#444" stroke-width="1"/>
<line x1="52.30" y1="332.00" x2="59.70" y2="332.00" stroke="#444" stroke-width="1"/>
<line x1="67.20" y1="308.40" x2="67.20" y2="313.50" stroke="#444" stroke-width="1"/>
<line x1="65.45" y1="308.40" x2="68.95" y2="308.40" stroke="#444" stroke-width="1"/>
<line x1="67.20" y1="338.90" x2="67.20" y2="356.10" stroke="#444" stroke-width="1"/>
<line x1="65.45" y1="356.10" x2="68.95" y2="356.10" stroke="#444" stroke-width="1"/>
<rect x="63.50" y="313.50" width="7.40" height="25.40" fill="#737373" stroke="#444" stroke-width="1"/>
<line x1="63.50" y1="324.00" x2="70.90" y2="324.00" stroke="#444" stroke-width="1"/>
<line x1="79.10" y1="308.40" x2="79.10" y2="324.50" stroke="#444" stroke-width="1"/>
<line x1="77.35" y1="324.50" x2="80.85" y2="324.50" stroke="#444" stroke-width="1"/>
<rect x="75.40" y="289.30" width="7.40" height="19.10" fill="#fff" stroke="#444" stroke-width="1"/>
<line x1="75.40" y1="297.30" x2="82.80" y2="297.30" stroke="#444" stroke-width="1"/>
<line x1="90.60" y1="284.70" x2="90.60" y2="306.60" stroke="#444" stroke-width="1"/>
<line x1="88.85" y1="284.70" x2="92.35" y2="284.70" stroke="#444" stroke-width="1"/>
<line x1="90.60" y1="330.40" x2="90.60" y2="341.50" stroke="#444" stroke-width="1"/>
<line x1="88.85" y1="341.50" x2="92.35" y2="341.50" stroke="#444" stroke-width="1"/>
<rect x="86.90" y="306.60" width="7.40" height="23.80" fill="#c8c8c8" stroke="#444" stroke-width="1"/>
<line x1="86.90" y1="319.90" x2="94.30" y2="319.90" stroke="#444" stroke-width="1"/>
<line x1="102.20" y1="319.00" x2="102.20" y2="328.30" stroke="#444" stroke-width="1"/>
<line x1="100.45" y1="319.00" x2="103.95" y2="319.00" stroke="#444" stroke-width="1"/>
<line x1="102.20" y1="352.00" x2="102.20" y2="361.10" stroke="#444" stroke-width="1"/>
<line x1="100.45" y1="361.10" x2="103.95" y2="361.10" stroke="#444" stroke-width="1"/>
<rect x="98.50" y="328.30" width="7.40" height="23.70" fill="#737373" stroke="#444" stroke-width="1"/>
<line x1="98.50" y1="344.50" x2="105.90" y2="344.50" stroke="#444" stroke-width="1"/>
<line x1="113.90" y1="300.00" x2="113.90" y2="313.60" stroke="#444" stroke-width="1"/>
<line x1="112.15" y1="300.00" x2="115.65" y2="300.00" stroke="#444" stroke-width="1"/>
<line x1="113.90" y1="334.10" x2="113.90" y2="339.30" stroke="#444" stroke-width="1"/>
<line x1="112.15" y1="339.30" x2="115.65" y2="339.30" stroke="#444" stroke-width="1"/>
<rect x="110.20" y="313.60" width="7.40" height="20.50" fill="#fff" stroke="#444" stroke-width="1"/>
<line x1="110.20" y1="326.40" x2="117.60" y2="326.40" stroke="#444" stroke-width="1"/>
<line x1="125.55" y1="280.50" x2="125.55" y2="289.50" stroke="#444" stroke-width="1"/>
<line x1="123.80" y1="280.50" x2="127.30" y2="280.50" stroke="#444" stroke-width="1"/>
<line x1="125.55" y1="314.30" x2="125.55" y2="330.10" stroke="#444" stroke-width="1"/>
<line x1="123.80" y1="330.10" x2="127.30" y2="330.10" stroke="#444" stroke-width="1"/>
<rect x="121.85" y="289.50" width="7.40" height="24.80" fill="#c8c8c8" stroke="#444" stroke-width="1"/>
<line x1="121.85" y1="301.20" x2="129.25" y2="301.20" stroke="#444" stroke-width="1"/>
<line x1="136.90" y1="293.70" x2="136.90" y2="303.20" stroke="#999" stroke-width="1"/>
<line x1="135.15" y1="293.70" x2="138.65" y2="293.70" stroke="#999" stroke-width="1"/>
<line x1="136.90" y1="334.20" x2="136.90" y2="365.40" stroke="#999" stroke-width="1"/>
<line x1="135.15" y1="365.40" x2="138.65" y2="365.40" stroke="#999" stroke-width="1"/>
<rect x="133.20" y="303.20" width="7.40" height="31.00" fill="#737373" stroke="#444" stroke-width="1"/>
<line x1="133.20" y1="312.20" x2="140.60" y2="312.20" stroke="#444" stroke-width="1"/>
<polyline points="78.60,278.20 78.60,256.40 102.40,256.40 102.40,311.60" fill="none" stroke="#555" stroke-width="1.1"/>
<polyline points="78.60,271.60 90.70,271.60 90.70,281.40" fill="none" stroke="#555" stroke-width="1.1"/>
<polyline points="113.40,293.30 113.40,254.70 125.60,254.70 125.60,269.50" fill="none" stroke="#555" stroke-width="1.1"/>
<text x="89.90" y="254.90" font-size="9" text-anchor="middle" textLength="7.00" lengthAdjust="spacingAndGlyphs" fill="#444" color="#444" stroke-width="0.198">**</text>
<text x="84.40" y="271.60" font-size="9" text-anchor="middle" textLength="3.50" lengthAdjust="spacingAndGlyphs" fill="#444" color="#444" stroke-width="0.198">*</text>
<text x="119.90" y="254.90" font-size="9" text-anchor="middle" textLength="7.00" lengthAdjust="spacingAndGlyphs" fill="#444" color="#444" stroke-width="0.198">**</text>
<rect x="148.30" y="308.50" width="12.60" height="7.20" fill="#fff" stroke="#444" stroke-width="1"/>
<rect x="148.30" y="322.70" width="12.60" height="6.90" fill="#c8c8c8" stroke="#444" stroke-width="1"/>
<rect x="148.30" y="337.00" width="12.60" height="6.70" fill="#737373" stroke="#444" stroke-width="1"/>
<text x="167.60" y="315.80" font-size="10.3" textLength="24.30" lengthAdjust="spacingAndGlyphs" fill="#222" color="#222" stroke-width="0.227">no drug</text>
<text x="167.60" y="329.80" font-size="10.3" textLength="23.30" lengthAdjust="spacingAndGlyphs" fill="#222" color="#222" stroke-width="0.227">3IY 4hr</text>
<text x="167.60" y="343.90" font-size="10.3" textLength="23.30" lengthAdjust="spacingAndGlyphs" fill="#222" color="#222" stroke-width="0.227">3IY 6hr</text>
<text x="201.70" y="245.50" font-size="17.3" textLength="9.90" lengthAdjust="spacingAndGlyphs" font-weight="bold" fill="#111" color="#111" stroke-width="0">F</text>
<line x1="218.00" y1="232.00" x2="218.00" y2="408.40" stroke="#aaa" stroke-width="1.8"/>
<line x1="218.00" y1="408.40" x2="394.30" y2="408.40" stroke="#555" stroke-width="1"/>
<line x1="214.00" y1="254.80" x2="218.00" y2="254.80" stroke="#555" stroke-width="1"/>
<text x="210.50" y="258.90" font-size="11.5" text-anchor="end" textLength="10.00" lengthAdjust="spacingAndGlyphs" fill="#222" color="#222" stroke-width="0.253">50</text>
<line x1="214.00" y1="298.70" x2="218.00" y2="298.70" stroke="#555" stroke-width="1"/>
<text x="210.50" y="302.80" font-size="11.5" text-anchor="end" textLength="10.00" lengthAdjust="spacingAndGlyphs" fill="#222" color="#222" stroke-width="0.253">40</text>
<line x1="214.00" y1="342.60" x2="218.00" y2="342.60" stroke="#555" stroke-width="1"/>
<text x="210.50" y="346.70" font-size="11.5" text-anchor="end" textLength="10.00" lengthAdjust="spacingAndGlyphs" fill="#222" color="#222" stroke-width="0.253">30</text>
<line x1="214.00" y1="386.50" x2="218.00" y2="386.50" stroke="#555" stroke-width="1"/>
<text x="210.50" y="390.60" font-size="11.5" text-anchor="end" textLength="10.00" lengthAdjust="spacingAndGlyphs" fill="#222" color="#222" stroke-width="0.253">20</text>
<line x1="261.50" y1="269.00" x2="261.50" y2="408.30" stroke="#222" stroke-width="1.5" stroke-dasharray="1.25 1.9"/>
<line x1="304.70" y1="269.00" x2="304.70" y2="408.30" stroke="#222" stroke-width="1.5" stroke-dasharray="1.25 1.9"/>
<line x1="348.80" y1="269.00" x2="348.80" y2="408.30" stroke="#222" stroke-width="1.5" stroke-dasharray="1.25 1.9"/>
<line x1="238.70" y1="408.40" x2="238.70" y2="412.00" stroke="#555" stroke-width="1"/>
<line x1="283.90" y1="408.40" x2="283.90" y2="412.00" stroke="#555" stroke-width="1"/>
<line x1="327.40" y1="408.40" x2="327.40" y2="412.00" stroke="#555" stroke-width="1"/>
<line x1="368.20" y1="408.40" x2="368.20" y2="412.00" stroke="#555" stroke-width="1"/>
<text x="238.70" y="424.30" font-size="11" text-anchor="middle" textLength="4.80" lengthAdjust="spacingAndGlyphs" fill="#333" color="#333" stroke-width="0.12">0</text>
<text x="283.90" y="424.30" font-size="11" text-anchor="middle" textLength="11.60" lengthAdjust="spacingAndGlyphs" fill="#333" color="#333" stroke-width="0.12">2.5</text>
<text x="327.40" y="424.30" font-size="11" text-anchor="middle" textLength="4.80" lengthAdjust="spacingAndGlyphs" fill="#333" color="#333" stroke-width="0.12">5</text>
<text x="368.20" y="424.30" font-size="11" text-anchor="middle" textLength="9.60" lengthAdjust="spacingAndGlyphs" fill="#333" color="#333" stroke-width="0.12">10</text>
<text x="213.20" y="424.30" font-size="10.8" text-anchor="end" textLength="18.60" lengthAdjust="spacingAndGlyphs" fill="#222" color="#222" stroke-width="0.238">PA(μl)</text>
<line x1="223.40" y1="303.50" x2="223.40" y2="320.30" stroke="#777" stroke-width="1"/>
<line x1="221.65" y1="303.50" x2="225.15" y2="303.50" stroke="#777" stroke-width="1"/>
<line x1="223.40" y1="342.10" x2="223.40" y2="353.10" stroke="#777" stroke-width="1"/>
<line x1="221.65" y1="353.10" x2="225.15" y2="353.10" stroke="#777" stroke-width="1"/>
<rect x="219.80" y="320.30" width="7.20" height="21.80" fill="#fff" stroke="#555" stroke-width="1"/>
<line x1="219.80" y1="329.40" x2="227.00" y2="329.40" stroke="#555" stroke-width="1"/>
<line x1="234.10" y1="303.50" x2="234.10" y2="316.50" stroke="#777" stroke-width="1"/>
<line x1="232.35" y1="303.50" x2="235.85" y2="303.50" stroke="#777" stroke-width="1"/>
<line x1="234.10" y1="338.40" x2="234.10" y2="351.30" stroke="#777" stroke-width="1"/>
<line x1="232.35" y1="351.30" x2="235.85" y2="351.30" stroke="#777" stroke-width="1"/>
<rect x="230.50" y="316.50" width="7.20" height="21.90" fill="#b0b0b0" stroke="#555" stroke-width="1"/>
<line x1="230.50" y1="325.00" x2="237.70" y2="325.00" stroke="#555" stroke-width="1"/>
<line x1="245.00" y1="312.00" x2="245.00" y2="320.20" stroke="#777" stroke-width="1"/>
<line x1="243.25" y1="312.00" x2="246.75" y2="312.00" stroke="#777" stroke-width="1"/>
<line x1="245.00" y1="351.30" x2="245.00" y2="359.90" stroke="#777" stroke-width="1"/>
<line x1="243.25" y1="359.90" x2="246.75" y2="359.90" stroke="#777" stroke-width="1"/>
<rect x="241.40" y="320.20" width="7.20" height="31.10" fill="url(#hatch)" stroke="#555" stroke-width="1"/>
<line x1="241.40" y1="334.10" x2="248.60" y2="334.10" stroke="#555" stroke-width="1"/>
<line x1="256.00" y1="306.30" x2="256.00" y2="329.50" stroke="#999" stroke-width="1"/>
<line x1="254.25" y1="306.30" x2="257.75" y2="306.30" stroke="#999" stroke-width="1"/>
<line x1="256.00" y1="355.90" x2="256.00" y2="365.40" stroke="#999" stroke-width="1"/>
<line x1="254.25" y1="365.40" x2="257.75" y2="365.40" stroke="#999" stroke-width="1"/>
<rect x="252.40" y="329.50" width="7.20" height="26.40" fill="url(#dots)" stroke="#555" stroke-width="1"/>
<line x1="252.40" y1="338.40" x2="259.60" y2="338.40" stroke="#555" stroke-width="1"/>
<line x1="267.30" y1="312.60" x2="267.30" y2="318.50" stroke="#777" stroke-width="1"/>
<line x1="265.55" y1="312.60" x2="269.05" y2="312.60" stroke="#777" stroke-width="1"/>
<line x1="267.30" y1="340.50" x2="267.30" y2="363.50" stroke="#777" stroke-width="1"/>
<line x1="265.55" y1="363.50" x2="269.05" y2="363.50" stroke="#777" stroke-width="1"/>
<rect x="263.70" y="318.50" width="7.20" height="22.00" fill="#fff" stroke="#555" stroke-width="1"/>
<line x1="263.70" y1="329.40" x2="270.90" y2="329.40" stroke="#555" stroke-width="1"/>
<line x1="277.80" y1="289.70" x2="277.80" y2="307.30" stroke="#777" stroke-width="1"/>
<line x1="276.05" y1="289.70" x2="279.55" y2="289.70" stroke="#777" stroke-width="1"/>
<line x1="277.80" y1="342.10" x2="277.80" y2="351.30" stroke="#777" stroke-width="1"/>
<line x1="276.05" y1="351.30" x2="279.55" y2="351.30" stroke="#777" stroke-width="1"/>
<rect x="274.20" y="307.30" width="7.20" height="34.80" fill="#b0b0b0" stroke="#555" stroke-width="1"/>
<line x1="274.20" y1="320.10" x2="281.40" y2="320.10" stroke="#555" stroke-width="1"/>
<line x1="288.80" y1="286.70" x2="288.80" y2="297.50" stroke="#777" stroke-width="1"/>
<line x1="287.05" y1="286.70" x2="290.55" y2="286.70" stroke="#777" stroke-width="1"/>
<line x1="288.80" y1="321.30" x2="288.80" y2="336.90" stroke="#777" stroke-width="1"/>
<line x1="287.05" y1="336.90" x2="290.55" y2="336.90" stroke="#777" stroke-width="1"/>
<rect x="285.20" y="297.50" width="7.20" height="23.80" fill="url(#hatch)" stroke="#555" stroke-width="1"/>
<line x1="285.20" y1="311.90" x2="292.40" y2="311.90" stroke="#555" stroke-width="1"/>
<line x1="299.70" y1="298.60" x2="299.70" y2="305.30" stroke="#777" stroke-width="1"/>
<line x1="297.95" y1="298.60" x2="301.45" y2="298.60" stroke="#777" stroke-width="1"/>
<line x1="299.70" y1="335.90" x2="299.70" y2="342.20" stroke="#777" stroke-width="1"/>
<line x1="297.95" y1="342.20" x2="301.45" y2="342.20" stroke="#777" stroke-width="1"/>
<rect x="296.10" y="305.30" width="7.20" height="30.60" fill="url(#dots)" stroke="#555" stroke-width="1"/>
<line x1="296.10" y1="329.20" x2="303.30" y2="329.20" stroke="#555" stroke-width="1"/>
<line x1="310.90" y1="307.30" x2="310.90" y2="325.40" stroke="#777" stroke-width="1"/>
<line x1="309.15" y1="325.40" x2="312.65" y2="325.40" stroke="#777" stroke-width="1"/>
<rect x="307.30" y="285.80" width="7.20" height="21.50" fill="#fff" stroke="#555" stroke-width="1"/>
<line x1="307.30" y1="293.90" x2="314.50" y2="293.90" stroke="#555" stroke-width="1"/>
<line x1="321.50" y1="277.60" x2="321.50" y2="294.40" stroke="#777" stroke-width="1"/>
<line x1="319.75" y1="277.60" x2="323.25" y2="277.60" stroke="#777" stroke-width="1"/>
<line x1="321.50" y1="320.10" x2="321.50" y2="344.60" stroke="#777" stroke-width="1"/>
<line x1="319.75" y1="344.60" x2="323.25" y2="344.60" stroke="#777" stroke-width="1"/>
<rect x="317.90" y="294.40" width="7.20" height="25.70" fill="#b0b0b0" stroke="#555" stroke-width="1"/>
<line x1="317.90" y1="303.30" x2="325.10" y2="303.30" stroke="#555" stroke-width="1"/>
<line x1="332.50" y1="304.50" x2="332.50" y2="320.10" stroke="#777" stroke-width="1"/>
<line x1="330.75" y1="304.50" x2="334.25" y2="304.50" stroke="#777" stroke-width="1"/>
<line x1="332.50" y1="351.30" x2="332.50" y2="363.50" stroke="#777" stroke-width="1"/>
<line x1="330.75" y1="363.50" x2="334.25" y2="363.50" stroke="#777" stroke-width="1"/>
<rect x="328.90" y="320.10" width="7.20" height="31.20" fill="url(#hatch)" stroke="#555" stroke-width="1"/>
<line x1="328.90" y1="338.30" x2="336.10" y2="338.30" stroke="#555" stroke-width="1"/>
<line x1="343.20" y1="309.50" x2="343.20" y2="320.10" stroke="#777" stroke-width="1"/>
<line x1="341.45" y1="309.50" x2="344.95" y2="309.50" stroke="#777" stroke-width="1"/>
<line x1="343.20" y1="338.30" x2="343.20" y2="351.30" stroke="#777" stroke-width="1"/>
<line x1="341.45" y1="351.30" x2="344.95" y2="351.30" stroke="#777" stroke-width="1"/>
<rect x="339.60" y="320.10" width="7.20" height="18.20" fill="url(#dots)" stroke="#555" stroke-width="1"/>
<line x1="339.60" y1="329.40" x2="346.80" y2="329.40" stroke="#555" stroke-width="1"/>
<line x1="354.10" y1="263.10" x2="354.10" y2="290.10" stroke="#777" stroke-width="1"/>
<line x1="352.35" y1="263.10" x2="355.85" y2="263.10" stroke="#777" stroke-width="1"/>
<line x1="354.10" y1="311.90" x2="354.10" y2="326.00" stroke="#777" stroke-width="1"/>
<line x1="352.35" y1="326.00" x2="355.85" y2="326.00" stroke="#777" stroke-width="1"/>
<rect x="350.50" y="290.10" width="7.20" height="21.80" fill="#fff" stroke="#555" stroke-width="1"/>
<line x1="350.50" y1="298.60" x2="357.70" y2="298.60" stroke="#555" stroke-width="1"/>
<line x1="364.90" y1="275.40" x2="364.90" y2="286.20" stroke="#777" stroke-width="1"/>
<line x1="363.15" y1="275.40" x2="366.65" y2="275.40" stroke="#777" stroke-width="1"/>
<line x1="364.90" y1="324.70" x2="364.90" y2="339.00" stroke="#777" stroke-width="1"/>
<line x1="363.15" y1="339.00" x2="366.65" y2="339.00" stroke="#777" stroke-width="1"/>
<rect x="361.30" y="286.20" width="7.20" height="38.50" fill="#b0b0b0" stroke="#555" stroke-width="1"/>
<line x1="361.30" y1="307.30" x2="368.50" y2="307.30" stroke="#555" stroke-width="1"/>
<line x1="376.00" y1="290.10" x2="376.00" y2="316.30" stroke="#777" stroke-width="1"/>
<line x1="374.25" y1="290.10" x2="377.75" y2="290.10" stroke="#777" stroke-width="1"/>
<line x1="376.00" y1="355.30" x2="376.00" y2="363.50" stroke="#777" stroke-width="1"/>
<line x1="374.25" y1="363.50" x2="377.75" y2="363.50" stroke="#777" stroke-width="1"/>
<rect x="372.40" y="316.30" width="7.20" height="39.00" fill="url(#hatch)" stroke="#555" stroke-width="1"/>
<line x1="372.40" y1="342.20" x2="379.60" y2="342.20" stroke="#555" stroke-width="1"/>
<line x1="386.90" y1="307.30" x2="386.90" y2="322.80" stroke="#777" stroke-width="1"/>
<line x1="385.15" y1="307.30" x2="388.65" y2="307.30" stroke="#777" stroke-width="1"/>
<line x1="386.90" y1="344.60" x2="386.90" y2="359.90" stroke="#777" stroke-width="1"/>
<line x1="385.15" y1="359.90" x2="388.65" y2="359.90" stroke="#777" stroke-width="1"/>
<rect x="383.30" y="322.80" width="7.20" height="21.80" fill="url(#dots)" stroke="#555" stroke-width="1"/>
<line x1="383.30" y1="329.60" x2="390.50" y2="329.60" stroke="#555" stroke-width="1"/>
<polyline points="266.60,302.60 266.60,271.00 289.00,271.00 289.00,283.90" fill="none" stroke="#555" stroke-width="1.1"/>
<polyline points="311.20,282.30 311.20,269.20 338.30,269.20 338.30,285.00" fill="none" stroke="#555" stroke-width="1.1"/>
<line x1="326.80" y1="285.00" x2="346.70" y2="285.00" stroke="#555" stroke-width="1.1"/>
<polyline points="353.90,263.00 353.90,257.50 384.50,257.50 384.50,279.00" fill="none" stroke="#555" stroke-width="1.1"/>
<line x1="374.20" y1="279.00" x2="394.20" y2="279.00" stroke="#555" stroke-width="1.1"/>
<text x="276.80" y="272.60" font-size="10.5" text-anchor="middle" textLength="4.20" lengthAdjust="spacingAndGlyphs" fill="#333" color="#333" stroke-width="0.231">*</text>
<text x="320.40" y="270.10" font-size="9" text-anchor="middle" textLength="8.00" lengthAdjust="spacingAndGlyphs" fill="#444" color="#444" stroke-width="0.198">**</text>
<text x="369.00" y="254.80" font-size="9" text-anchor="middle" textLength="7.50" lengthAdjust="spacingAndGlyphs" fill="#444" color="#444" stroke-width="0.198">**</text>
<rect x="225.30" y="232.60" width="14.20" height="7.00" fill="#fff" stroke="#555" stroke-width="1"/>
<rect x="225.30" y="248.60" width="14.20" height="7.00" fill="#b0b0b0" stroke="#555" stroke-width="1"/>
<rect x="288.40" y="234.40" width="14.20" height="7.20" fill="url(#hatch)" stroke="#555" stroke-width="1"/>
<rect x="288.40" y="250.00" width="14.20" height="7.20" fill="url(#dots)" stroke="#555" stroke-width="1"/>
<text x="243.20" y="239.80" font-size="10" textLength="27.30" lengthAdjust="spacingAndGlyphs" fill="#3a3a3a" color="#3a3a3a" stroke-width="0.22">no drug</text>
<text x="243.20" y="255.70" font-size="10" textLength="38.30" lengthAdjust="spacingAndGlyphs" fill="#3a3a3a" color="#3a3a3a" stroke-width="0.22">L-dopa 2hr</text>
<text x="306.00" y="241.70" font-size="10" textLength="38.50" lengthAdjust="spacingAndGlyphs" fill="#3a3a3a" color="#3a3a3a" stroke-width="0.22">L-dopa 4hr</text>
<text x="306.00" y="257.60" font-size="10" textLength="38.50" lengthAdjust="spacingAndGlyphs" fill="#3a3a3a" color="#3a3a3a" stroke-width="0.22">L-dopa 6hr</text>
</svg></body></html>
